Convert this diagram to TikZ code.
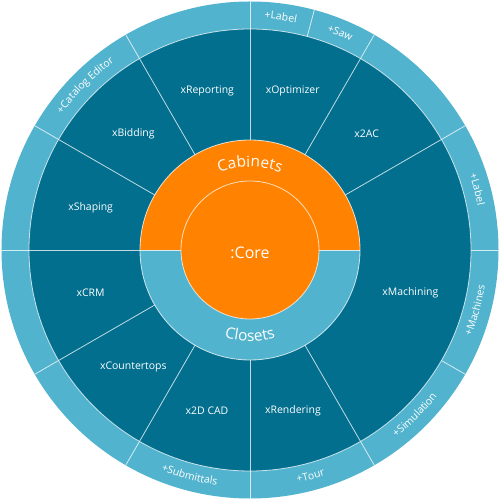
\documentclass[tikz,border=0pt]{standalone}
\usepackage{fontspec}
\setmainfont{Open Sans}
\usetikzlibrary{decorations.text}
\definecolor{ringlight}{RGB}{82,179,206}
\definecolor{ringdark}{RGB}{2,111,143}
\definecolor{coreorange}{RGB}{255,130,0}
\newcommand\olabfont{\fontsize{10.5}{12}\selectfont\color{white}}
\newcommand\cabfont{\fontsize{15.5}{18}\selectfont\color{white}}
\begin{document}
\begin{tikzpicture}[x=1bp,y=1bp,
  sep/.style={white, opacity=0.75, line width=0.8bp},
  seglabel/.style={text=white, font=\fontsize{10.5}{12}\selectfont, inner sep=0pt},
  arclabel/.style={decorate, decoration={text along path, text align=center, text={|\olabfont|#1}}},
  bigarc/.style={decorate, decoration={text along path, text align=center, text={|\cabfont|#1}}}
]
\useasboundingbox (-250,-250) rectangle (250,250);
% rings
\fill[ringlight] (0,0) circle (248.5);
\fill[ringdark] (0,0) circle (221);
\fill[ringlight] (0,0) circle (110);
\fill[coreorange] (110,0) arc[start angle=0, end angle=180, radius=110] -- cycle;
\fill[coreorange] (0,0) circle (69);
% separators
\draw[sep] (0,0) circle (221) (0,0) circle (110) (0,0) circle (69);
\draw[sep] (69,0) -- (110,0) (-69,0) -- (-110,0);
\foreach \a in {30,60,...,300} \draw[sep] (\a:110) -- (\a:248.5);
\foreach \a in {0,75,330} \draw[sep] (\a:221) -- (\a:248.5);
% module labels
\node[seglabel] (opt) at (75:165) {xOptimizer};
\node[seglabel] (rep) at (105:165) {xReporting};
\node[seglabel] (bid) at (135:165) {xBidding};
\node[seglabel] (shp) at (165:165) {xShaping};
\node[seglabel] (crm) at (195:165) {xCRM};
\node[seglabel] (ctr) at (225:165) {xCountertops};
\node[seglabel] (cad) at (255:166) {x2D CAD};
\node[seglabel] (rnd) at (285:166) {xRendering};
\node[seglabel] (mac) at (-15:166) {xMachining};
\node[seglabel] (tac) at (45:165) {x2AC};
% core
\node[text=white, font=\fontsize{16}{19}\selectfont, inner sep=0pt] (core) at (0,-2.5) {:Core};
\path[bigarc={Cabinets}] (160:83) arc[start angle=160, end angle=20, radius=83];
\path[bigarc={Closets}] (200:91) arc[start angle=200, end angle=340, radius=91];
% outer labels (clockwise, top)
\path[arclabel={+Label}] (102.5:232) arc[start angle=102.5, end angle=62.5, radius=232];
\path[arclabel={+Saw}] (87.5:232) arc[start angle=87.5, end angle=47.5, radius=232];
\path[arclabel={+Catalog Editor}] (160:232) arc[start angle=160, end angle=110, radius=232];
\path[arclabel={+Label}] (35:232) arc[start angle=35, end angle=-5, radius=232];
% outer labels (counter-clockwise, bottom)
\path[arclabel={+Machines}] (-40:237.5) arc[start angle=-40, end angle=10, radius=237.5];
\path[arclabel={+Simulation}] (-70:237.5) arc[start angle=-70, end angle=-20, radius=237.5];
\path[arclabel={+Tour}] (-95:237.5) arc[start angle=-95, end angle=-55, radius=237.5];
\path[arclabel={+Submittals}] (230:237.5) arc[start angle=230, end angle=280, radius=237.5];
\end{tikzpicture}
\end{document}
